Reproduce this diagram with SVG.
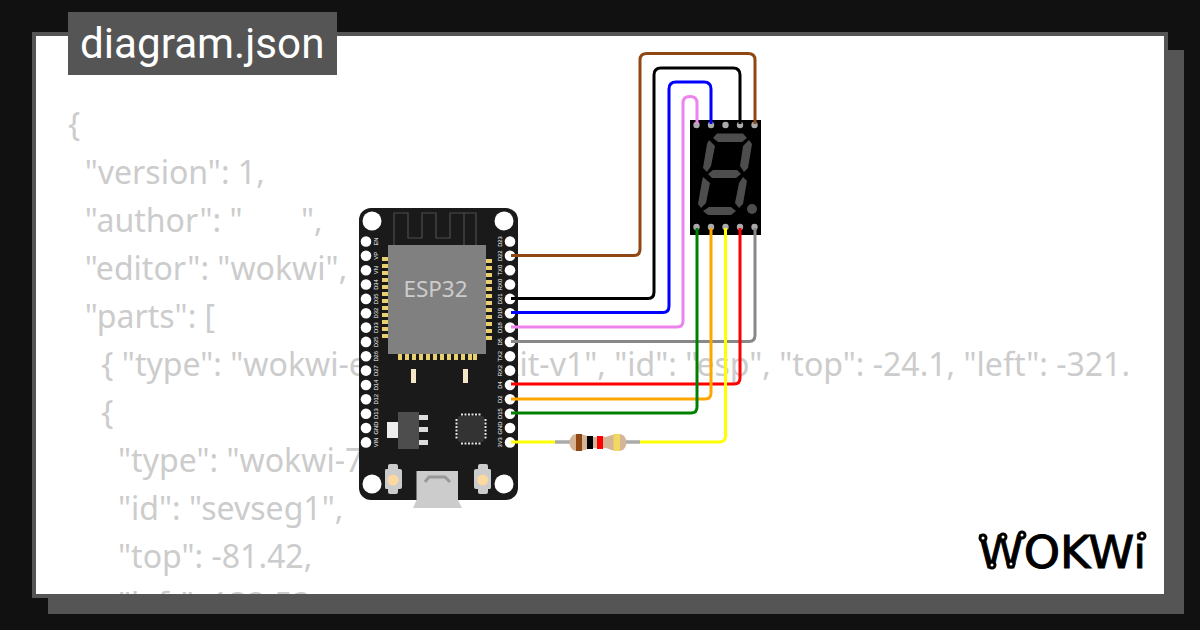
<svg xmlns="http://www.w3.org/2000/svg" width="1200" height="630" viewBox="0 0 1200 630">
<style>
.code{font-family:"Noto Sans","Open Sans",sans-serif;font-size:32.06px;fill:#ccc;white-space:pre}
.pl{font-family:"Liberation Sans",Arial,sans-serif;font-size:5.8px;fill:#fff;text-anchor:middle}
.w{fill:none;stroke-width:3;stroke-linejoin:round}
.pad{fill:#e8d070}
.hole{fill:#fff}
.seg{fill:#4d4d4d}
.sp{fill:#aaa}
.ring{fill:#fff;stroke:#000;stroke-width:3}
</style>
<defs><clipPath id="fr"><rect x="36" y="36" width="1128" height="558"/></clipPath></defs>
<rect width="1200" height="630" fill="#111"/>
<rect x="48" y="50" width="1136" height="564" fill="#555"/>
<rect x="34" y="34" width="1132" height="562" fill="#fff" stroke="#555" stroke-width="4"/>
<g clip-path="url(#fr)">
<text class="code" x="68" y="136">{</text>
<text class="code" x="68" y="184">  "version": 1,</text>
<text class="code" x="68" y="232">  "author": "       ",</text>
<text class="code" x="68" y="280">  "editor": "wokwi",</text>
<text class="code" x="68" y="328">  "parts": [</text>
<text class="code" x="68" y="376">    { "type": "wokwi-esp32-devkit-v1", "id": "esp", "top": -24.1, "left": -321.</text>
<text class="code" x="68" y="424">    {</text>
<text class="code" x="68" y="472">      "type": "wokwi-7segment",</text>
<text class="code" x="68" y="520">      "id": "sevseg1",</text>
<text class="code" x="68" y="568">      "top": -81.42,</text>
<text class="code" x="68" y="616">      "left": 133.53,</text>
</g>
<g id="title"><rect x="68" y="12" width="269" height="63" fill="#555"/>
<text x="80" y="58" font-family="Roboto,sans-serif" font-size="42.2" fill="#fff">diagram.json</text></g>
<g id="esp">
<rect x="359" y="208" width="159" height="292" rx="12" fill="#1a1a1a"/>
<path d="M394 246V213H408V238H422V213H436V238H450V213H476V246M464 213V246" fill="none" stroke="#4d4d4d" stroke-width="1.2"/>
<circle cx="372" cy="221" r="9.5" class="hole"/><circle cx="504" cy="221" r="9.5" class="hole"/>
<circle cx="372" cy="484" r="9.5" class="hole"/><circle cx="504" cy="484" r="9.5" class="hole"/>
<g class="hole">
<circle cx="366" cy="241.5" r="5.3"/><circle cx="366" cy="255.8" r="5.3"/><circle cx="366" cy="270.2" r="5.3"/><circle cx="366" cy="284.5" r="5.3"/><circle cx="366" cy="298.9" r="5.3"/><circle cx="366" cy="313.2" r="5.3"/><circle cx="366" cy="327.6" r="5.3"/><circle cx="366" cy="341.9" r="5.3"/><circle cx="366" cy="356.3" r="5.3"/><circle cx="366" cy="370.6" r="5.3"/><circle cx="366" cy="385" r="5.3"/><circle cx="366" cy="399.3" r="5.3"/><circle cx="366" cy="413.7" r="5.3"/><circle cx="366" cy="428" r="5.3"/><circle cx="366" cy="442.4" r="5.3"/>
<circle cx="510" cy="241.5" r="5.3"/><circle cx="510" cy="255.8" r="5.3"/><circle cx="510" cy="270.2" r="5.3"/><circle cx="510" cy="284.5" r="5.3"/><circle cx="510" cy="298.9" r="5.3"/><circle cx="510" cy="313.2" r="5.3"/><circle cx="510" cy="327.6" r="5.3"/><circle cx="510" cy="341.9" r="5.3"/><circle cx="510" cy="356.3" r="5.3"/><circle cx="510" cy="370.6" r="5.3"/><circle cx="510" cy="385" r="5.3"/><circle cx="510" cy="399.3" r="5.3"/><circle cx="510" cy="413.7" r="5.3"/><circle cx="510" cy="428" r="5.3"/><circle cx="510" cy="442.4" r="5.3"/>
</g>
<g class="pl">
<text transform="translate(378 241.5) rotate(-90)">EN</text><text transform="translate(378 255.8) rotate(-90)">VP</text><text transform="translate(378 270.2) rotate(-90)">VN</text><text transform="translate(378 284.5) rotate(-90)">D34</text><text transform="translate(378 298.9) rotate(-90)">D35</text><text transform="translate(378 313.2) rotate(-90)">D32</text><text transform="translate(378 327.6) rotate(-90)">D33</text><text transform="translate(378 341.9) rotate(-90)">D25</text><text transform="translate(378 356.3) rotate(-90)">D26</text><text transform="translate(378 370.6) rotate(-90)">D27</text><text transform="translate(378 385) rotate(-90)">D14</text><text transform="translate(378 399.3) rotate(-90)">D12</text><text transform="translate(378 413.7) rotate(-90)">D13</text><text transform="translate(378 428) rotate(-90)">GND</text><text transform="translate(378 442.4) rotate(-90)">VIN</text>
<text transform="translate(501.500 241.5) rotate(-90)">D23</text><text transform="translate(501.500 255.8) rotate(-90)">D22</text><text transform="translate(501.500 270.2) rotate(-90)">TX0</text><text transform="translate(501.500 284.5) rotate(-90)">RX0</text><text transform="translate(501.500 298.9) rotate(-90)">D21</text><text transform="translate(501.500 313.2) rotate(-90)">D19</text><text transform="translate(501.500 327.6) rotate(-90)">D18</text><text transform="translate(501.500 341.9) rotate(-90)">D5</text><text transform="translate(501.500 356.3) rotate(-90)">TX2</text><text transform="translate(501.500 370.6) rotate(-90)">RX2</text><text transform="translate(501.500 385) rotate(-90)">D4</text><text transform="translate(501.500 399.3) rotate(-90)">D2</text><text transform="translate(501.500 413.7) rotate(-90)">D15</text><text transform="translate(501.500 428) rotate(-90)">GND</text><text transform="translate(501.500 442.4) rotate(-90)">3V3</text>
</g>
<g class="pad">
<rect x="382" y="257" width="6" height="4"/><rect x="382" y="264" width="6" height="4"/><rect x="382" y="271" width="6" height="4"/><rect x="382" y="278" width="6" height="4"/><rect x="382" y="285" width="6" height="4"/><rect x="382" y="292" width="6" height="4"/><rect x="382" y="299" width="6" height="4"/><rect x="382" y="306" width="6" height="4"/><rect x="382" y="313" width="6" height="4"/><rect x="382" y="320" width="6" height="4"/><rect x="382" y="327" width="6" height="4"/><rect x="382" y="334" width="6" height="4"/>
<rect x="486" y="259" width="6" height="4"/><rect x="486" y="266" width="6" height="4"/><rect x="486" y="273" width="6" height="4"/><rect x="486" y="280" width="6" height="4"/><rect x="486" y="287" width="6" height="4"/><rect x="486" y="294" width="6" height="4"/><rect x="486" y="301" width="6" height="4"/><rect x="486" y="308" width="6" height="4"/><rect x="486" y="315" width="6" height="4"/><rect x="486" y="322" width="6" height="4"/><rect x="486" y="329" width="6" height="4"/><rect x="486" y="336" width="6" height="4"/>
<rect x="398" y="354" width="4" height="6"/><rect x="405" y="354" width="4" height="6"/><rect x="412" y="354" width="4" height="6"/><rect x="419" y="354" width="4" height="6"/><rect x="426" y="354" width="4" height="6"/><rect x="433" y="354" width="4" height="6"/><rect x="440" y="354" width="4" height="6"/><rect x="447" y="354" width="4" height="6"/><rect x="454" y="354" width="4" height="6"/><rect x="461" y="354" width="4" height="6"/><rect x="468" y="354" width="4" height="6"/><rect x="473" y="354" width="4" height="6"/>
</g>
<rect x="388" y="245" width="98" height="109" fill="#808080"/>
<text x="435.500" y="296.500" font-family="Noto Sans,sans-serif" font-size="22.5" fill="#ccc" text-anchor="middle">ESP32</text>
<rect x="411" y="369" width="5" height="14" fill="#f5e6c8"/><rect x="463" y="369" width="5" height="14" fill="#f5e6c8"/>
<rect x="398" y="412" width="21" height="37" fill="#4d4d4d"/><rect x="387" y="422" width="11" height="16" fill="#eee"/>
<rect x="419" y="415" width="9" height="5" fill="#ddd"/><rect x="419" y="427" width="9" height="5" fill="#ddd"/><rect x="419" y="440" width="9" height="5" fill="#ddd"/>
<rect x="458" y="416" width="26" height="26" rx="2" fill="#333"/>
<path d="M461 414.500H482M461 443.500H482M456.500 419V440M485.500 419V440" fill="none" stroke="#e6e6e6" stroke-width="2" stroke-dasharray="2 1.500"/>
<g id="btn1"><path d="M388 466Q388 464 390 464H396Q398 464 398 466V469H400Q402 469 402 471V487Q402 489 400 489H398V492Q398 494 396 494H390Q388 494 388 492V489H386Q385 489 385 487V471Q385 469 386 469H388Z" fill="#ccc"/><circle cx="393" cy="480" r="5.500" fill="#fbd9a0"/></g>
<g id="btn2"><path d="M478 466Q478 464 480 464H486Q488 464 488 466V469H490Q491 469 491 471V487Q491 489 490 489H488V492Q488 494 486 494H480Q478 494 478 492V489H476Q474 489 474 487V471Q474 469 476 469H478Z" fill="#ccc"/><circle cx="482.700" cy="480" r="5.500" fill="#fbd9a0"/></g>
<path d="M416.500 471H458V500L462 508H413L416.500 500Z" fill="#ccc"/>
<path d="M425 482L429 477H445L450 482" fill="none" stroke="#999" stroke-width="3"/>
</g>
<g id="sevseg1">
<rect x="690" y="120" width="71" height="115"/>
<path class="seg" d="M717 133.500H743L747 138L742 142H718L713 138Z"/>
<path class="seg" d="M709 140L715 146L711 166L707 172L703 168L707 144Z"/>
<path class="seg" d="M749 140L752 144L748 168L744 172L740 166L743 146Z"/>
<path class="seg" d="M713 170H737L741 174L736 178H712L708 174Z"/>
<path class="seg" d="M703 177L710 183L706 203L701 208L698 204L702 181Z"/>
<path class="seg" d="M743 177L747 181L743 204L739 208L735 203L739 183Z"/>
<path class="seg" d="M709 207H731L736 211L731 215H708L703 211Z"/>
<circle cx="752" cy="209" r="5" class="seg"/>
<g class="sp"><circle cx="696.500" cy="125" r="3.200"/><circle cx="711" cy="125" r="3.200"/><circle cx="725.500" cy="125" r="3.200"/><circle cx="740" cy="125" r="3.200"/><circle cx="754.500" cy="125" r="3.200"/><circle cx="696.500" cy="227" r="3.200"/><circle cx="711" cy="227" r="3.200"/><circle cx="725.500" cy="227" r="3.200"/><circle cx="740" cy="227" r="3.200"/><circle cx="754.500" cy="227" r="3.200"/></g>
</g>
<g id="r1">
<path d="M555 442H640" stroke="#aaa" stroke-width="3.500"/>
<path d="M577 434C567 434 567 451 577 451C584 451 586 449 590 448H606C610 449 612 451 619 451C629 451 629 434 619 434C612 434 610 436 606 437H590C586 436 584 434 577 434Z" fill="#d5b597"/>
<rect x="576" y="434" width="6" height="17" fill="#8f4814"/><rect x="587" y="436" width="6" height="13"/><rect x="597" y="436" width="6" height="13" fill="#f00"/><rect x="613.500" y="434" width="6.500" height="17" fill="#f1d863"/>
</g>
<g id="connectors">
<path class="w" stroke="#8f4814" d="M511 255.500H634Q640 255.500 640 249V60Q640 53.500 647 53.500H748Q755 53.500 755 60V124"/>
<path class="w" stroke="#000" d="M511 298.500H648Q654 298.500 654 292V75Q654 68 661 68H733Q740 68 740 75V124"/>
<path class="w" stroke="#00f" d="M511 312.500H663Q669 312.500 669 306V89Q669 82 676 82H704Q711 82 711 89V124"/>
<path class="w" stroke="#ee82ee" d="M511 327H677Q683 327 683 321V103Q683 96.500 690 96.500Q697 96.500 697 103V124"/>
<path class="w" stroke="#888" d="M511 341.500H749Q755 341.500 755 335V228"/>
<path class="w" stroke="#f00" d="M511 384H734Q740 384 740 378V228"/>
<path class="w" stroke="#ffa500" d="M511 399H705Q711 399 711 393V228"/>
<path class="w" stroke="#008000" d="M511 413H691Q697 413 697 407V228"/>
<path class="w" stroke="#ff0" d="M511 442H555M640 442H719Q725.500 442 725.500 436V228"/>
</g>
<g id="logo">
<text x="978" y="568" font-family="DejaVu Sans,sans-serif" font-size="44" fill="#000" stroke="#000" stroke-width="1" textLength="168" lengthAdjust="spacingAndGlyphs">WOKWi</text>
<circle class="ring" cx="983" cy="538" r="3"/><circle class="ring" cx="1003" cy="537" r="3"/><circle class="ring" cx="1022" cy="535" r="3"/><circle class="ring" cx="992" cy="565" r="3"/><circle class="ring" cx="1011" cy="564" r="3"/><circle class="ring" cx="1142" cy="536" r="3"/>
</g>
</svg>
